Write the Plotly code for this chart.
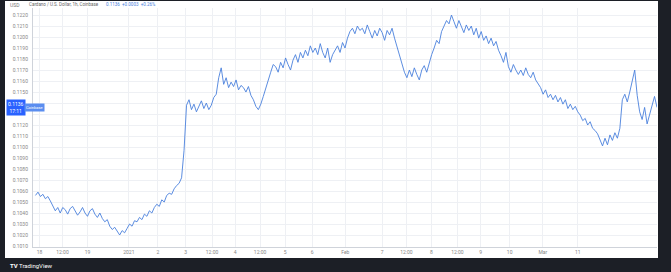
import plotly.graph_objects as go

prices = [
    0.1056, 0.1059, 0.1055, 0.1057, 0.1053, 0.1055, 0.1051,
    0.1046, 0.1042, 0.1045, 0.1040,
    0.1045, 0.1043, 0.1039, 0.1044, 0.1046, 0.1042, 0.1038, 0.1041, 0.1045, 0.1040, 0.1037, 0.1042, 0.1044, 0.1039, 0.1036, 0.1040,
    0.1035, 0.1032, 0.1034, 0.1028, 0.1025, 0.1027, 0.1023, 0.1020, 0.1024, 0.1022,
    0.1026, 0.1030, 0.1028, 0.1033, 0.1032, 0.1036, 0.1034, 0.1039, 0.1037, 0.1042, 0.1040, 0.1045, 0.1048, 0.1046, 0.1052, 0.1050, 0.1056, 0.1058, 0.1057, 0.1062, 0.1065, 0.1067, 0.1072,
    0.1097, 0.1138,
    0.1143, 0.1134, 0.1139, 0.1132, 0.1137, 0.1142, 0.1135, 0.1140, 0.1134, 0.1138, 0.1145, 0.1148,
    0.1163, 0.1172,
    0.1157, 0.1163, 0.1154, 0.1159, 0.1155, 0.1161, 0.1152, 0.1156, 0.1154, 0.1150, 0.1155, 0.1147,
    0.1143, 0.1137, 0.1134, 0.1139, 0.1146,
    0.1154, 0.1161, 0.1168, 0.1175, 0.1173,
    0.1168, 0.1177, 0.1172, 0.1181, 0.1175, 0.1170, 0.1179, 0.1184, 0.1177, 0.1186,
    0.1181, 0.1188, 0.1183, 0.1192, 0.1186, 0.1190, 0.1184, 0.1194,
    0.1186, 0.1181, 0.1190, 0.1177, 0.1184, 0.1188, 0.1192, 0.1186, 0.1195, 0.1190,
    0.1199, 0.1205, 0.1208, 0.1203, 0.1210, 0.1206,
    0.1208, 0.1203, 0.1211, 0.1205, 0.1199, 0.1206, 0.1201, 0.1208, 0.1204, 0.1197, 0.1206, 0.1202, 0.1208, 0.1199,
    0.1191, 0.1183, 0.1175, 0.1168, 0.1163, 0.1170,
    0.1164, 0.1172, 0.1166, 0.1161, 0.1170, 0.1174, 0.1168, 0.1177,
    0.1184, 0.1190, 0.1197, 0.1194, 0.1205, 0.1210, 0.1215, 0.1212,
    0.1220, 0.1214, 0.1208, 0.1215, 0.1209, 0.1204, 0.1211, 0.1206,
    0.1210, 0.1202, 0.1208, 0.1199, 0.1205, 0.1197, 0.1201, 0.1194, 0.1199, 0.1192, 0.1196, 0.1188,
    0.1183, 0.1177, 0.1186, 0.1173, 0.1168, 0.1175, 0.1170, 0.1166,
    0.1170, 0.1165, 0.1172, 0.1166, 0.1163, 0.1168, 0.1161, 0.1157,
    0.1154, 0.1148, 0.1152, 0.1145, 0.1148, 0.1143, 0.1147, 0.1141,
    0.1145, 0.1139, 0.1143, 0.1135, 0.1139, 0.1134, 0.1137, 0.1132,
    0.1129, 0.1124, 0.1126, 0.1120, 0.1123, 0.1117, 0.1115, 0.1112,
    0.1106, 0.1101, 0.1108, 0.1102, 0.1111,
    0.1106, 0.1113, 0.1108, 0.1117,
    0.1143, 0.1148, 0.1141, 0.1150,
    0.1161, 0.1170, 0.1147,
    0.1132, 0.1125, 0.1136, 0.1121, 0.1129,
    0.1139, 0.1146, 0.1136,
]
hours = list(range(len(prices)))

x_tick_pos = [1.6, 10.9, 21, 37.7, 49.4, 60.7, 71.3, 80.6, 90.7, 100.8, 111.7,
              125.1, 140, 149.8, 159.9, 170.4, 179.8, 191.5, 204.9, 219]
x_tick_text = ["18", "12:00", "19", "2021", "2", "3", "12:00", "4", "12:00", "5", "6",
               "Feb", "7", "12:00", "8", "12:00", "9", "10", "Mar", "11"]

y_ticks = [0.1010, 0.1020, 0.1030, 0.1040, 0.1050, 0.1060, 0.1070, 0.1080, 0.1090, 0.1100, 0.1110,
           0.1120, 0.1130, 0.1140, 0.1150, 0.1160, 0.1170, 0.1180, 0.1190, 0.1200, 0.1210, 0.1220]
# labels hidden behind the last-price box
y_tick_text = ["" if v in (0.1130, 0.1140) else f"{v:.4f}" for v in y_ticks]

title_text = "Cardano / U.S. Dollar, 1h, Coinbase"
last_text = "0.1136  +0.0003  +0.26%"

fig = go.Figure()
fig.add_trace(go.Scatter(x=hours, y=prices, mode="lines",
                         line=dict(color="#4a80dc", width=0.9), hoverinfo="skip"))

W, H = 671, 272
ml, mr, mt, mb = 33, 14, 8, 25
pw, ph = W - ml - mr, H - mt - mb

def px(x):
    return (x - ml) / pw

def py(y):
    return (H - mb - y) / ph

shapes = [
    dict(type="rect", xref="paper", yref="paper", x0=px(5), x1=px(658), y0=py(258), y1=py(1),
         fillcolor="white", line_width=0, layer="below"),
]

fig.update_layout(
    width=W, height=H,
    margin=dict(l=ml, r=mr, t=mt, b=mb),
    paper_bgcolor="#1c1f26",
    plot_bgcolor="white",
    showlegend=False,
    shapes=shapes,
    xaxis=dict(range=[-1, 251], tickvals=x_tick_pos, ticktext=x_tick_text,
               showgrid=True, gridcolor="#eef0f4", gridwidth=1,
               tickfont=dict(size=5, color="#888", family="Roboto"),
               showline=True, linecolor="#cfd3da", linewidth=1, ticks="", zeroline=False),
    yaxis=dict(range=[0.10091, 0.12264], tickvals=y_ticks, ticktext=y_tick_text,
               showgrid=True, gridcolor="#eef0f4", gridwidth=1,
               tickfont=dict(size=5, color="#888", family="Roboto"),
               showline=True, linecolor="#cfd3da", linewidth=1, ticks="", zeroline=False,
               ticklabelstandoff=3),
    annotations=[
        dict(xref="paper", yref="paper", x=px(8), y=py(5), text="USD", showarrow=False,
             xanchor="left", yanchor="middle", font=dict(size=5, color="#777", family="Roboto")),
        dict(xref="paper", yref="paper", x=px(27), y=py(5), text=title_text, showarrow=False,
             xanchor="left", yanchor="middle", font=dict(size=4.5, color="#666", family="Roboto")),
        dict(xref="paper", yref="paper", x=px(104), y=py(5), text=last_text, showarrow=False,
             xanchor="left", yanchor="middle", font=dict(size=4.5, color="#4a80dc", family="Roboto")),
        dict(xref="paper", yref="y", x=px(6), y=prices[-1], text="0.1136<br>17:11", showarrow=False,
             xanchor="left", yanchor="middle", bgcolor="#2962ff", borderpad=1,
             font=dict(size=5, color="white", family="Roboto")),
        dict(xref="paper", yref="y", x=px(24), y=prices[-1], text="Coinbase", showarrow=False,
             xanchor="left", yanchor="middle", bgcolor="#5b8ef0", borderpad=1,
             font=dict(size=4, color="white", family="Roboto")),
        dict(xref="paper", yref="paper", x=px(8), y=py(265), text="<b>TV</b> TradingView", showarrow=False,
             xanchor="left", yanchor="middle", font=dict(size=6, color="white", family="Roboto")),
    ],
)

fig.write_html("out.html")
